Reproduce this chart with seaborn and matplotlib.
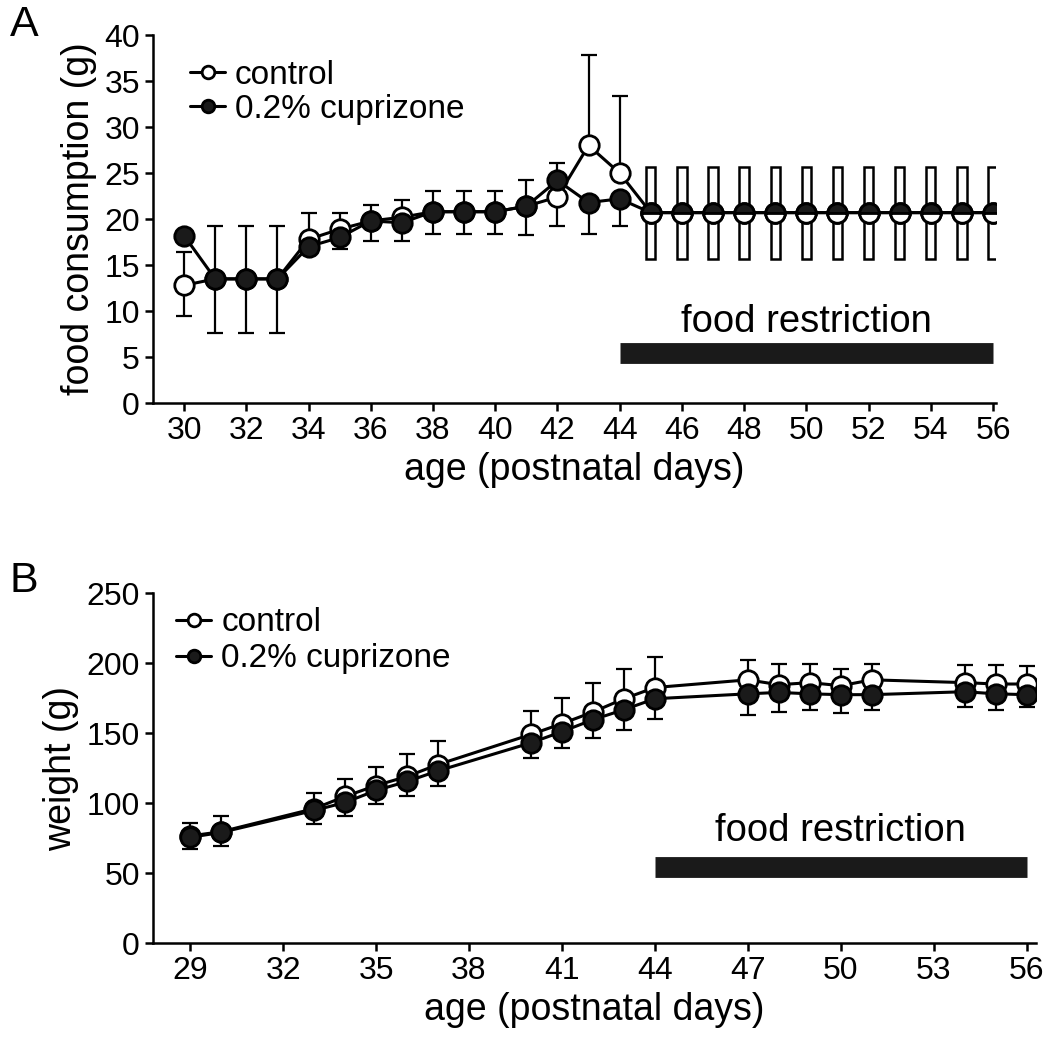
import matplotlib
matplotlib.use("Agg")
import matplotlib.pyplot as plt
import seaborn as sns
import pandas as pd

# -----------------------------
# DATA
# -----------------------------
# panel A: food consumption, days 30-44 (free feeding)
days_a = [30, 31, 32, 33, 34, 35, 36, 37, 38, 39, 40, 41, 42, 43, 44]
ctrl_a = [12.8, 13.5, 13.5, 13.5, 17.8, 18.9, 19.8, 20.2, 20.8, 20.8, 20.8, 21.4, 22.4, 28.0, 25.0]
cupr_a = [18.2, 13.5, 13.5, 13.5, 17.0, 18.0, 19.8, 19.6, 20.8, 20.8, 20.8, 21.4, 24.2, 21.8, 22.2]
ctrl_a_up = [3.6, 5.8, 5.8, 5.8, 2.9, 1.8, 1.7, 1.9, 2.2, 2.2, 2.2, 2.8, 0.0, 9.8, 8.4]
ctrl_a_dn = [3.3, 0, 0, 0, 0, 0, 0, 0, 0, 0, 0, 0, 3.2, 0, 0]
cupr_a_up = [0, 0, 0, 0, 0, 0, 0, 0, 0, 0, 0, 0, 1.9, 0, 0]
cupr_a_dn = [0, 5.9, 5.9, 5.9, 0.5, 1.2, 2.2, 2.0, 2.4, 2.4, 2.4, 3.1, 0, 3.4, 3.0]

# panel A: days 45-56 (restricted ration, same for both groups)
days_r = [45, 46, 47, 48, 49, 50, 51, 52, 53, 54, 55, 56]
food_r = [20.7, 20.7, 20.7, 20.7, 20.7, 20.7, 20.7, 20.7, 20.7, 20.7, 20.7, 20.7]
sd_r = [5.0, 5.0, 5.0, 5.0, 5.0, 5.0, 5.0, 5.0, 5.0, 5.0, 5.0, 5.0]

# panel B: body weight
days_b = [29, 30, 33, 34, 35, 36, 37, 40, 41, 42, 43, 44, 47, 48, 49, 50, 51, 54, 55, 56]
ctrl_b = [76.5, 79.5, 96, 104.7, 112.5, 119, 127.5, 149, 156.7, 165, 174.5, 182.5,
          188, 184.5, 186, 183.8, 188, 186, 185, 185]
cupr_b = [75.5, 79, 94.7, 100.4, 109, 115.4, 123, 143, 151, 159.5, 166.7, 174.5,
          178, 179, 178, 177.4, 177.4, 179.5, 178, 177.4]
ctrl_b_up = [9, 11, 11, 12.3, 12.9, 16, 16.5, 17, 18.3, 21, 21.5, 21.5,
             14, 14.5, 13.5, 12.2, 11.5, 12.7, 13.7, 13]
cupr_b_dn = [8.5, 10, 9.7, 9.4, 10, 10.4, 11, 11, 11.4, 12.8, 14.7, 14.5,
             15, 14, 11.4, 12.9, 10.8, 10.7, 11.4, 8.6]

restriction = [44, 56]
group_names = ["control", "0.2% cuprizone"]

# -----------------------------
# STYLE
# -----------------------------
sns.set_style("ticks")
plt.rcParams['font.family'] = ['Liberation Sans', 'DejaVu Sans']
for key in ['text.color', 'axes.labelcolor', 'xtick.color', 'ytick.color', 'axes.edgecolor']:
    plt.rcParams[key] = 'black'
plt.rcParams['axes.linewidth'] = 1.8
plt.rcParams['xtick.major.width'] = 1.8
plt.rcParams['ytick.major.width'] = 1.8
plt.rcParams['xtick.major.size'] = 6
plt.rcParams['ytick.major.size'] = 6
plt.rcParams['xtick.labelsize'] = 23
plt.rcParams['ytick.labelsize'] = 23

DARK = '#1a1a1a'
LW = 2.2
MS = 14
open_kw = dict(marker='o', markersize=MS, markerfacecolor='white',
               markeredgecolor='black', markeredgewidth=2, color='black', linewidth=LW)
fill_kw = dict(marker='o', markersize=MS, markerfacecolor=DARK,
               markeredgecolor='black', markeredgewidth=2, color='black', linewidth=LW)
err_kw = dict(fmt='none', ecolor='black', elinewidth=1.6, capsize=6, capthick=1.6)

fig = plt.figure(figsize=(10.5, 10.47), dpi=100)
ax_a = fig.add_axes([0.1457, 0.615, 0.803, 0.3515])
ax_b = fig.add_axes([0.1457, 0.0993, 0.841, 0.3343])

# -----------------------------
# PANEL A
# -----------------------------
df_ctrl_a = pd.DataFrame({"day": days_a + days_r, "food": ctrl_a + food_r})
df_cupr_a = pd.DataFrame({"day": days_a + days_r, "food": cupr_a + food_r})

ax_a.errorbar(days_a, ctrl_a, yerr=[ctrl_a_dn, ctrl_a_up], zorder=2, **err_kw)
ax_a.errorbar(days_a, cupr_a, yerr=[cupr_a_dn, cupr_a_up], zorder=2, **err_kw)
ax_a.bar(days_r, [2 * s for s in sd_r], bottom=[f - s for f, s in zip(food_r, sd_r)],
         width=0.3, facecolor='white', edgecolor='black', linewidth=1.8, zorder=2)

sns.lineplot(data=df_ctrl_a, x="day", y="food", ax=ax_a, zorder=3, label=group_names[0], **open_kw)
sns.lineplot(data=df_cupr_a, x="day", y="food", ax=ax_a, zorder=4, label=group_names[1], **fill_kw)
# overlapping groups during restriction: half filled circles
ax_a.plot(days_r, food_r, linestyle='none', marker='o', markersize=MS, fillstyle='top',
          markerfacecolor=DARK, markerfacecoloralt='white', markeredgecolor='black',
          markeredgewidth=2, zorder=5)

ax_a.plot(restriction, [5.4, 5.4], color=DARK, linewidth=15, solid_capstyle='butt')
ax_a.text(sum(restriction) / 2, 8.8, "food restriction", ha='center', va='center', fontsize=27.5)

ax_a.set_xlim(29.0, 56.1)
ax_a.set_ylim(0, 40)
ax_a.set_xticks(range(30, 57, 2))
ax_a.set_yticks(range(0, 41, 5))
ax_a.set_xlabel("age (postnatal days)", fontsize=27, labelpad=4)
ax_a.set_ylabel("food consumption (g)", fontsize=27, labelpad=5)

# -----------------------------
# PANEL B
# -----------------------------
df_ctrl_b = pd.DataFrame({"day": days_b, "weight": ctrl_b})
df_cupr_b = pd.DataFrame({"day": days_b, "weight": cupr_b})

ax_b.errorbar(days_b, ctrl_b, yerr=[[0] * len(ctrl_b), ctrl_b_up], zorder=2, **err_kw)
ax_b.errorbar(days_b, cupr_b, yerr=[cupr_b_dn, [0] * len(cupr_b)], zorder=2, **err_kw)

sns.lineplot(data=df_ctrl_b, x="day", y="weight", ax=ax_b, zorder=3, label=group_names[0], **open_kw)
sns.lineplot(data=df_cupr_b, x="day", y="weight", ax=ax_b, zorder=4, label=group_names[1], **fill_kw)

ax_b.plot(restriction, [54.5, 54.5], color=DARK, linewidth=15, solid_capstyle='butt')
ax_b.text(sum(restriction) / 2, 80, "food restriction", ha='center', va='center', fontsize=27.5)

ax_b.set_xlim(27.8, 56.3)
ax_b.set_ylim(0, 250)
ax_b.set_xticks(range(29, 57, 3))
ax_b.set_yticks(range(0, 251, 50))
ax_b.set_xlabel("age (postnatal days)", fontsize=27, labelpad=4)
ax_b.set_ylabel("weight (g)", fontsize=27, labelpad=5)

# -----------------------------
# COMMON
# -----------------------------
legend_pos = {ax_a: ((0.036, 0.950), 0.08), ax_b: ((0.019, 0.978), 0.15)}
for ax in (ax_a, ax_b):
    sns.despine(ax=ax)
    anchor, spacing = legend_pos[ax]
    ax.legend(loc='upper left', bbox_to_anchor=anchor, borderaxespad=0,
              frameon=False, fontsize=24, markerscale=0.65,
              handlelength=1.05, handletextpad=0.3, labelspacing=spacing, borderpad=0.2)

fig.text(0.009, 0.995, "A", fontsize=31, ha='left', va='top')
fig.text(0.009, 0.464, "B", fontsize=31, ha='left', va='top')

plt.savefig("out.png", dpi=100)
plt.close()
